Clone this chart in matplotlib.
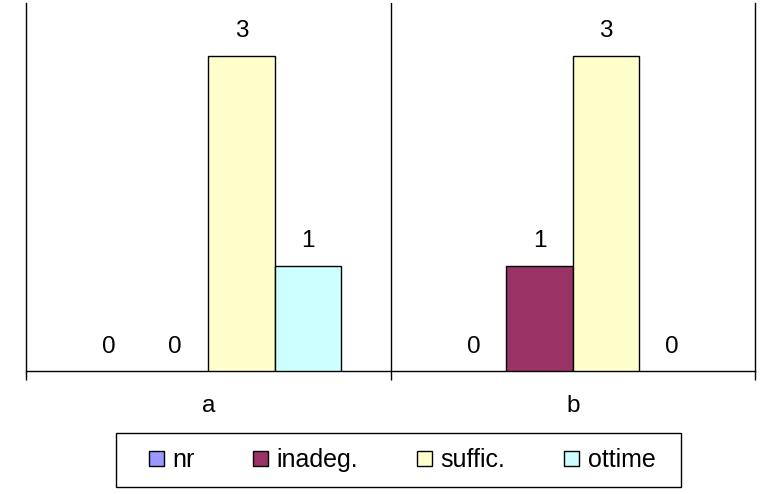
import matplotlib
matplotlib.use("Agg")
import matplotlib.pyplot as plt
import numpy as np
from matplotlib.legend_handler import HandlerPatch
from matplotlib.patches import Rectangle
from matplotlib.container import BarContainer

categories = ["a", "b"]
series = ["nr", "inadeg.", "suffic.", "ottime"]
values = {
    "nr": [0, 0],
    "inadeg.": [0, 1],
    "suffic.": [3, 3],
    "ottime": [1, 0],
}
colors = ["#9999FF", "#993366", "#FFFFCC", "#CCFFFF"]

plt.rcParams['font.family'] = ['Liberation Sans', 'DejaVu Sans']
FS = 17.5
LFS = 18

fig = plt.figure(figsize=(7.65, 4.94), dpi=100)
ax = fig.add_axes([26/765, (494-371)/494, (755-26)/765, (371-3)/494])

x = np.arange(len(categories))
w = 1/5.5
for i, (s, c) in enumerate(zip(series, colors)):
    xs = x + (i - 1.5) * w
    bars = ax.bar(xs, values[s], width=w, color=c, edgecolor="black", linewidth=1, label=s, zorder=3)
    for b, v in zip(bars, values[s]):
        if v == 0:
            b.set_linewidth(0)
    for xi, v in zip(xs, values[s]):
        ax.annotate(str(v), (xi, v), xytext=(0, 13.3), textcoords="offset points",
                    ha="center", va="baseline", fontsize=FS)

ax.set_xlim(-0.5, 1.5)
ax.set_ylim(0, 3.5)
ax.set_yticks([])
ax.spines['top'].set_visible(False)
for sp in ['left', 'right', 'bottom']:
    ax.spines[sp].set_linewidth(1)
ax.axvline(0.5, color="black", linewidth=1, zorder=1)

ax.set_xticks([-0.5, 0.5, 1.5])
ax.set_xticklabels([])
ax.tick_params(axis='x', which='major', direction='out', length=6.5, width=1)
ax.set_xticks(x, minor=True)
ax.set_xticklabels(categories, minor=True, fontsize=FS)
ax.tick_params(axis='x', which='minor', length=0, pad=17)

SQ = 15 * 72 / 100

def make_square(legend, orig_handle, xdescent, ydescent, width, height, fontsize):
    return Rectangle((-xdescent + width - SQ, -ydescent + (height - SQ) / 2), SQ, SQ)

def upd(legend_handle, orig_handle):
    src = orig_handle.patches[0]
    legend_handle.set_facecolor(src.get_facecolor())
    legend_handle.set_edgecolor("black")
    legend_handle.set_linewidth(1)

handler = HandlerPatch(patch_func=make_square, update_func=upd)

EXTRA_R = 12  # extra right padding of legend frame, pixels
EXTRA_V = 2   # extra vertical padding of legend frame, pixels

handles, labels = ax.get_legend_handles_labels()
leg = fig.legend(handles, labels, loc="center",
                 bbox_to_anchor=((398.5 - EXTRA_R / 2) / 765, 1 - 460/494),
                 ncol=4, fontsize=LFS, frameon=True, fancybox=False, shadow=False,
                 handlelength=1.36, handleheight=0.7, handletextpad=0.33,
                 columnspacing=1.6, borderpad=0.53, borderaxespad=0,
                 handler_map={BarContainer: handler})
fig.canvas.draw()
bb = leg.get_window_extent()
leg.get_frame().set_visible(False)
inv = fig.transFigure.inverted()
(x0, y0) = inv.transform((bb.x0, bb.y0 - EXTRA_V))
(x1, y1) = inv.transform((bb.x1 + EXTRA_R, bb.y1 + EXTRA_V))
fig.patches.append(Rectangle((x0, y0), x1 - x0, y1 - y0, transform=fig.transFigure,
                             facecolor="white", edgecolor="black", linewidth=1,
                             zorder=0, figure=fig))

fig.savefig("out.png", dpi=100)
